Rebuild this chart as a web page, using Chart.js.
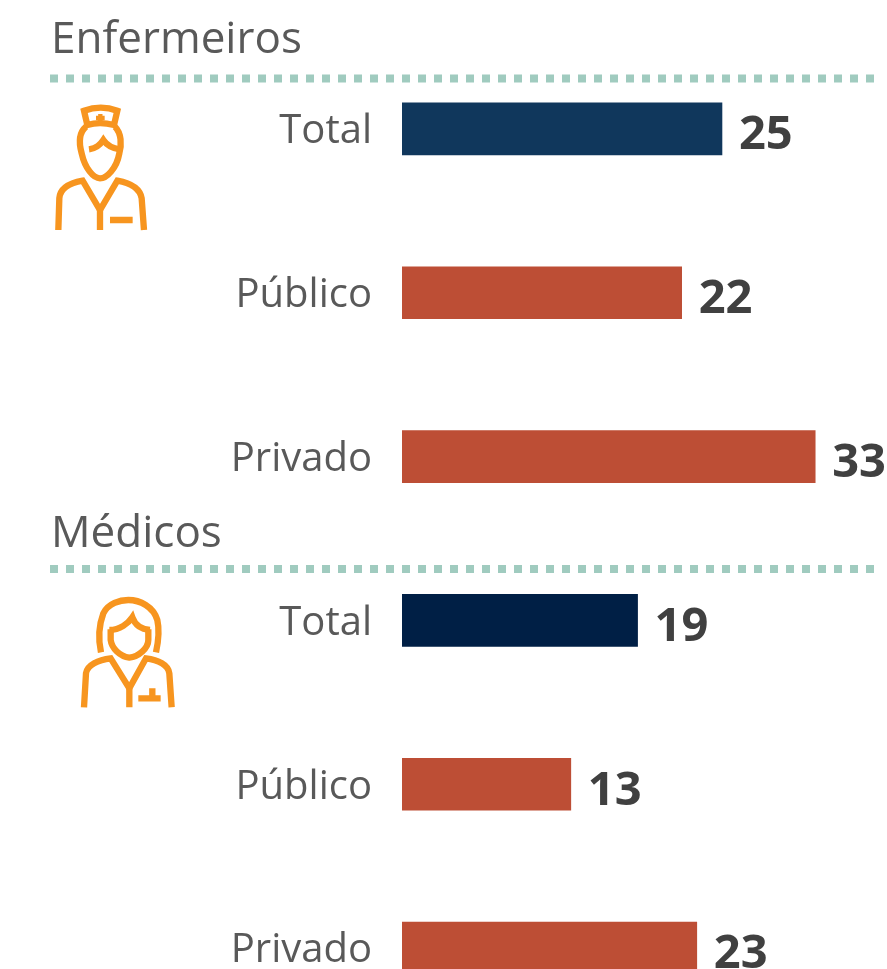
<!DOCTYPE html>
<html lang="pt">
<head>
<meta charset="utf-8">
<title>Enfermeiros e Médicos</title>
<script src="https://cdn.jsdelivr.net/npm/chart.js@4"></script>
<style>
  html, body { margin: 0; padding: 0; background: #fff; }
  #page { position: relative; width: 887px; height: 969px; overflow: hidden; }
  #plot { position: absolute; left: 0; top: 0; width: 887px; height: 1030px; }
  .heading { position: absolute; left: 51px; margin: 0; font: 400 44px/60px "Open Sans", sans-serif; color: #595959; }
  svg { position: absolute; left: 0; top: 0; pointer-events: none; }
  .icon { fill: none; stroke: #f7951f; stroke-width: 19; }
  .rule { stroke: #a0cbbf; stroke-width: 8; stroke-dasharray: 8 8; }
</style>
</head>
<body>
<div id="page">
  <div id="plot"><canvas id="bars" width="887" height="1030"></canvas></div>
  <h2 class="heading" style="top:6px">Enfermeiros</h2>
  <h2 class="heading" style="top:500px">Médicos</h2>
  <svg width="887" height="969">
    <line class="rule" x1="50" y1="78.5" x2="875" y2="78.5"></line>
    <line class="rule" x1="50" y1="569" x2="875" y2="569"></line>
    <!-- nurse -->
    <g class="icon" transform="translate(40 90) scale(0.3333)">
      <path d="M132 62 C165 50 200 50 232 62 L222 105 C195 98 165 98 142 105 Z"/>
      <path d="M168 84 H194 M181 72 V96" stroke-width="13"/>
      <path d="M138 110 C115 130 118 165 125 190 C135 235 160 265 180 265 C200 265 230 235 238 190 C245 165 245 130 225 110"/>
      <path d="M147 178 C170 175 180 165 190 150 C200 165 215 175 240 178"/>
      <path d="M55 420 L58 325 C60 295 85 280 128 272 L180 360 L232 272 C275 280 300 295 305 325 L312 420"/>
      <path d="M180 360 V420 M210 390 H278"/>
    </g>
    <!-- doctor -->
    <g class="icon" transform="translate(70 590) scale(0.3333)">
      <path d="M93 187 C85 150 85 110 100 70 C115 40 150 30 175 30 C210 30 250 50 262 90 C270 125 265 155 258 187"/>
      <path d="M118 120 C150 120 175 100 187 82 C195 105 215 118 240 120"/>
      <path d="M122 118 V150 C125 175 150 200 178 203 C205 200 235 175 235 150 V118"/>
      <path d="M42 352 L48 250 C52 225 85 210 122 205 L178 295 L228 205 C265 210 295 225 298 250 L305 352"/>
      <path d="M178 295 V352 M205 325 H272 M247 295 V325"/>
    </g>
  </svg>
</div>

<script>
'use strict';

const categories = ['Total', 'Público', 'Privado'];
const enfermeiros = [25.4, 22.2, 32.8];
const medicos = [18.7, 13.4, 23.4];
const xMax = 38.5;

const navyNurse = '#10375c';
const navyDoctor = '#001f45';
const brick = '#bd4e35';

// category names left of each bar, value labels just past its end
const barLabels = {
  id: 'barLabels',
  afterDatasetsDraw(chart) {
    const ctx = chart.ctx;
    const meta = chart.getDatasetMeta(0);
    const yScale = chart.scales.y;
    ctx.save();
    ctx.textBaseline = 'middle';
    meta.data.forEach((bar, i) => {
      ctx.font = '400 40px "Open Sans", sans-serif';
      ctx.fillStyle = '#595959';
      ctx.textAlign = 'right';
      ctx.fillText(yScale.getLabelForValue(i), yScale.right - 30, bar.y + 3);

      ctx.font = '700 47px "Open Sans", sans-serif';
      ctx.fillStyle = '#404040';
      ctx.textAlign = 'left';
      ctx.fillText(Math.round(chart.data.datasets[0].data[i]), bar.x + 17, bar.y + 7);
    });
    ctx.restore();
  }
};

new Chart(document.getElementById('bars'), {
  type: 'bar',
  data: {
    labels: categories.concat(categories),
    datasets: [{
      data: enfermeiros.concat(medicos),
      backgroundColor: [navyNurse, brick, brick, navyDoctor, brick, brick],
      barThickness: 52
    }]
  },
  options: {
    indexAxis: 'y',
    responsive: false,
    animation: false,
    layout: { padding: { top: 47 } },
    plugins: {
      legend: { display: false },
      title: { display: false },
      tooltip: { enabled: false }
    },
    scales: {
      x: {
        display: false,
        min: 0,
        max: xMax
      },
      y: {
        border: { display: false },
        grid: { display: false, drawTicks: false },
        afterFit(scale) { scale.width = 402; },
        ticks: { display: false }
      }
    }
  },
  plugins: [barLabels]
});
</script>
</body>
</html>
